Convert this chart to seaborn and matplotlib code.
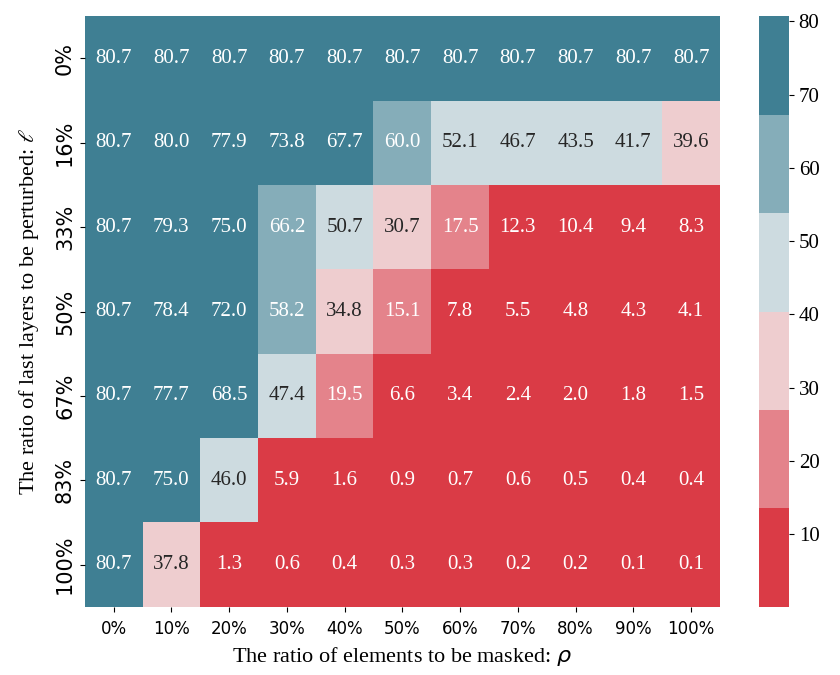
import numpy as np
import pandas as pd
import matplotlib
matplotlib.use("Agg")
import matplotlib.pyplot as plt
import seaborn as sns

rho_labels = ["0%", "10%", "20%", "30%", "40%", "50%", "60%", "70%", "80%", "90%", "100%"]
ell_labels = ["0%", "16%", "33%", "50%", "67%", "83%", "100%"]

row_0 = [80.7, 80.7, 80.7, 80.7, 80.7, 80.7, 80.7, 80.7, 80.7, 80.7, 80.7]
row_16 = [80.7, 80.0, 77.9, 73.8, 67.7, 60.0, 52.1, 46.7, 43.5, 41.7, 39.6]
row_33 = [80.7, 79.3, 75.0, 66.2, 50.7, 30.7, 17.5, 12.3, 10.4, 9.4, 8.3]
row_50 = [80.7, 78.4, 72.0, 58.2, 34.8, 15.1, 7.8, 5.5, 4.8, 4.3, 4.1]
row_67 = [80.7, 77.7, 68.5, 47.4, 19.5, 6.6, 3.4, 2.4, 2.0, 1.8, 1.5]
row_83 = [80.7, 75.0, 46.0, 5.9, 1.6, 0.9, 0.7, 0.6, 0.5, 0.4, 0.4]
row_100 = [80.7, 37.8, 1.3, 0.6, 0.4, 0.3, 0.3, 0.2, 0.2, 0.1, 0.1]

df = pd.DataFrame([row_0, row_16, row_33, row_50, row_67, row_83, row_100],
                  index=ell_labels, columns=rho_labels)

cmap = sns.diverging_palette(10, 220, n=6)

fig = plt.figure(figsize=(8.4, 6.75), dpi=100)
ax = fig.add_axes([0.101, 0.101, 0.756, 0.875])
cax = fig.add_axes([0.9036, 0.101, 0.0357, 0.875])

sns.heatmap(df, ax=ax, cbar_ax=cax, cmap=cmap, annot=True, fmt=".1f",
            annot_kws={"fontsize": 15, "family": "Liberation Serif"})

ax.set_xticklabels(rho_labels, fontsize=12, family="DejaVu Sans", rotation=0)
ax.set_yticklabels(ell_labels, fontsize=15, family="DejaVu Sans", rotation=90, va="center")
ax.tick_params(axis="x", pad=6)
ax.set_xlabel(r"The ratio of elements to be masked: $\rho$", fontsize=16,
              family="Liberation Serif", labelpad=5)
yl = ax.set_ylabel(r"The ratio of last layers to be perturbed: $\ell$", fontsize=16,
                   family="Liberation Serif", labelpad=10)
yl.set_math_fontfamily("stix")

cax.set_yticks([10, 20, 30, 40, 50, 60, 70, 80])
for t in cax.get_yticklabels():
    t.set_fontsize(15)
    t.set_family("Liberation Serif")

fig.savefig("out.png", dpi=100)
